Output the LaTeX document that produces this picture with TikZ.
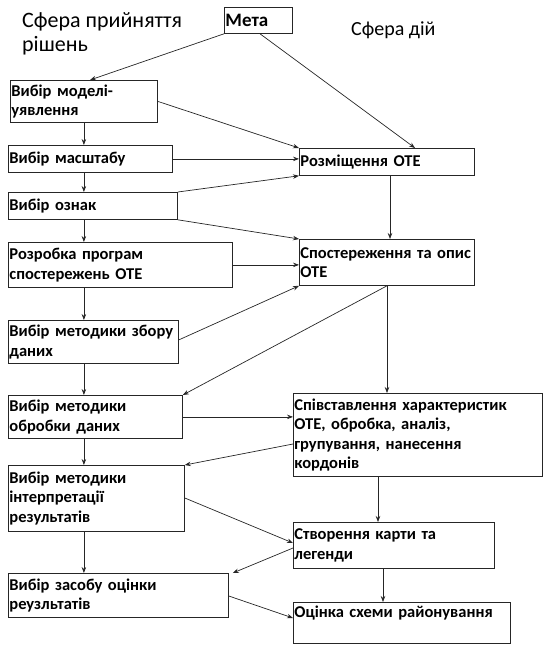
\documentclass[tikz,border=0pt]{standalone}
\usepackage{fontspec}
\setmainfont{Carlito}
\usetikzlibrary{arrows.meta}

\tikzset{
  box/.style 2 args={draw=black!85, line width=0.8pt, anchor=north west,
    inner xsep=1pt, inner ysep=0pt, align=left, text width=#1pt,
    minimum height=#2pt, font=\bfseries\fontsize{16.5}{19.5}\selectfont},
  arr/.style={draw=black!85, line width=0.7pt, -{Stealth[length=6pt,width=4.5pt]}},
  zone/.style={anchor=base west, inner sep=0pt, align=left}
}

\begin{document}
\begin{tikzpicture}[x=1pt,y=-1pt]
  \useasboundingbox (0,0) rectangle (544,645);

  % Zone headings
  \node[zone, font=\fontsize{22}{24}\selectfont] (zdec) at (22,51) {Сфера прийняття\\рішень};
  \node[zone, font=\fontsize{20}{24}\selectfont] (zact) at (351,35) {Сфера дій};

  % Goal
  \node[box={66}{26}, font=\bfseries\fontsize{19}{20}\selectfont] (meta) at (224,7) {Мета};

  % Decision column (left)
  \node[box={145}{42}] (model)  at (10,80)  {Вибір моделі-\\уявлення};
  \node[box={162}{27}] (masht)  at (8,145)  {Вибір масштабу};
  \node[box={167}{27}] (oznak)  at (8,192)  {Вибір ознак};
  \node[box={222}{45}] (rozrob) at (8,242)  {Розробка програм\\спостережень ОТЕ};
  \node[box={168}{43}] (zbir)   at (8,320)  {Вибір методики збору\\даних};
  \node[box={172}{43}] (obrob)  at (8,395)  {Вибір методики\\обробки даних};
  \node[box={174}{66}] (interp) at (8,465)  {Вибір методики\\інтерпретації\\результатів};
  \node[box={218}{44}] (zasib)  at (8,573)  {Вибір засобу оцінки\\реузльтатів};

  % Action column (right)
  \node[box={173}{27}] (rozm)  at (299,148) {Розміщення ОТЕ};
  \node[box={173}{46}] (spost) at (299,239) {Спостереження та опис\\ОТЕ};
  \node[box={247}{83}] (spiv)  at (293,393) {Співставлення характеристик\\ОТЕ, обробка, аналіз,\\групування, нанесення\\кордонів};
  \node[box={199}{46}] (stvor) at (293,522) {Створення карти та\\легенди};
  \node[box={215}{41}, text depth=22pt] (ocin) at (293,602) {Оцінка схеми районування};

  % From the goal
  \draw[arr] (meta.south west) -- ([xshift=80pt]model.north west);
  \draw[arr] ([xshift=36pt]meta.south west) -- ([xshift=116pt]rozm.north west);

  % Left column chain
  \draw[arr] (model.south) -- (masht.north -| model.south);
  \draw[arr] (masht.south -| model.south) -- (oznak.north -| model.south);
  \draw[arr] (oznak.south -| model.south) -- (rozrob.north -| model.south);
  \draw[arr] (rozrob.south -| model.south) -- (zbir.north -| model.south);
  \draw[arr] (zbir.south -| model.south) -- (obrob.north -| model.south);
  \draw[arr] (obrob.south -| model.south) -- (interp.north -| model.south);
  \draw[arr] (interp.south -| model.south) -- (zasib.north -| model.south);

  % Right column chain
  \draw[arr] ([xshift=91pt]rozm.south west) -- ([xshift=91pt]spost.north west);
  \draw[arr] ([xshift=88pt]spost.south west) -- ([xshift=94pt]spiv.north west);
  \draw[arr] ([xshift=85pt]spiv.south west) -- ([xshift=85pt]stvor.north west);
  \draw[arr] ([xshift=90pt]stvor.south west) -- ([xshift=90pt]ocin.north west);

  % Decisions to actions
  \draw[arr] (model.east) -- (rozm.north west);
  \draw[arr] (masht.east) -- (masht.east -| rozm.west);
  \draw[arr] (oznak.north east) -- (rozm.south west);
  \draw[arr] (oznak.south east) -- (spost.north west);
  \draw[arr] (rozrob.east) -- (rozrob.east -| spost.west);
  \draw[arr] ([yshift=2pt]zbir.east) -- (spost.south west);
  \draw[arr] (obrob.east) -- (obrob.east -| spiv.west);
  \draw[arr] ([yshift=-33pt]interp.north east) -- ([yshift=-21pt]stvor.north west);
  \draw[arr] ([yshift=-23pt]zasib.north east) -- ([yshift=-16pt]ocin.north west);

  % Actions back to decisions
  \draw[arr] ([xshift=88pt]spost.south west) -- (obrob.north east);
  \draw[arr] ([yshift=-51pt]spiv.north west) -- (interp.north east);
  \draw[arr] ([yshift=-26pt]stvor.north west) -- ([xshift=4pt]zasib.north east);
\end{tikzpicture}
\end{document}
